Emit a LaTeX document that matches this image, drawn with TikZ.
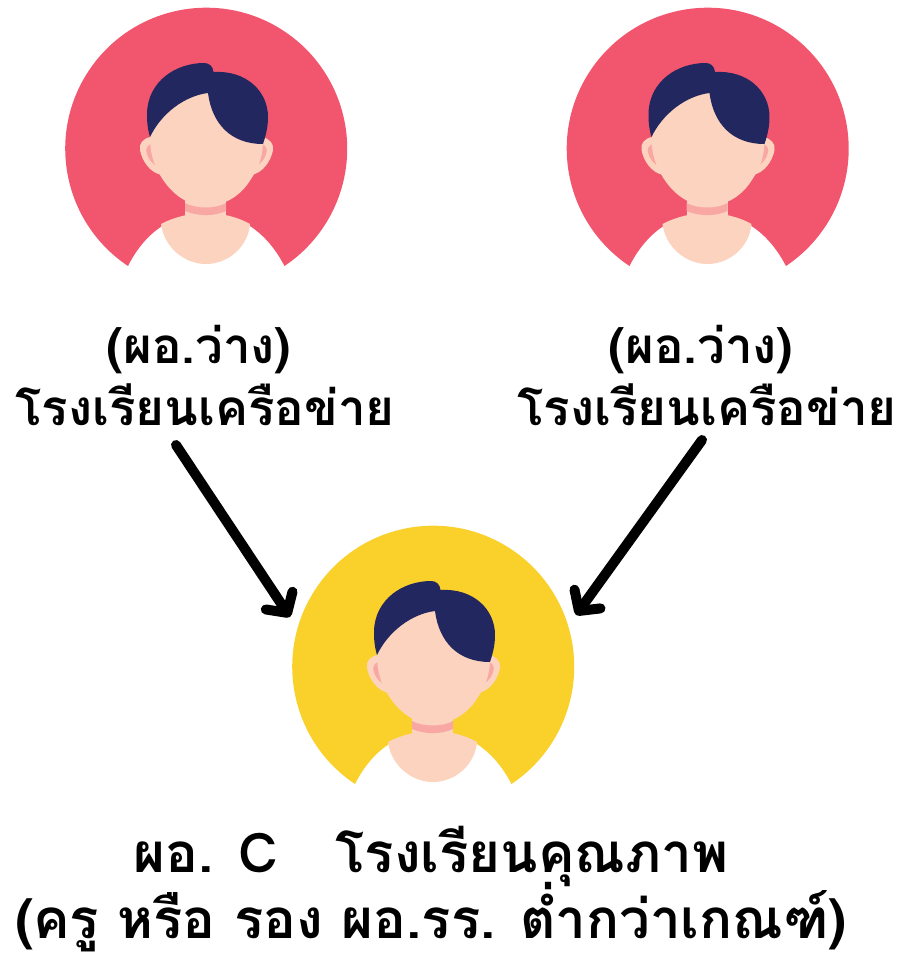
\documentclass[tikz,border=0pt]{standalone}
\usepackage{fontspec}
\usetikzlibrary{arrows.meta}
\newfontfamily\thaifont[Script=Thai]{Loma}
\definecolor{redbg}{HTML}{F2566E}
\definecolor{yellowbg}{HTML}{FAD02B}
\definecolor{navyhair}{HTML}{23275F}
\definecolor{skin}{HTML}{FBD3BE}
\definecolor{pinkshade}{HTML}{F9A7A3}
\tikzset{
  label text/.style={font=\thaifont\bfseries\fontsize{37}{40}\selectfont,text=black,inner sep=0pt,anchor=center},
  big text/.style={font=\thaifont\bfseries\fontsize{41}{44}\selectfont,text=black,inner sep=0pt,anchor=center},
  link/.style={line width=7.5pt,line cap=round,line join=round,draw=black,-{Straight Barb[length=11pt,width=24pt,round]}}
}
\newcommand{\drawavatar}[2]{%
\begin{scope}[shift={#1}]
  % backdrop with the shoulders cut out
  \fill[#2] (-78,117) arc[start angle=123.7,end angle=416.3,radius=141]
    .. controls (62,85) and (35,64) .. (0,64)
    .. controls (-35,64) and (-62,85) .. (-78,117) -- cycle;
  % chest
  \fill[skin] (-45,75) .. controls (-42,98) and (-22,115) .. (0,115)
    .. controls (22,115) and (42,98) .. (44,75)
    .. controls (32,68) and (15,64) .. (0,64)
    .. controls (-15,64) and (-32,68) .. (-45,75) -- cycle;
  % neck
  \fill[skin] (-21,40) rectangle (20,66);
  \fill[pinkshade] (-21,54) .. controls (-10,60) and (10,60) .. (20,54)
    -- (20,62) .. controls (8,67.5) and (-8,67.5) .. (-21,62) -- cycle;
  % ears
  \fill[skin] (-56,-12) .. controls (-63,-10) and (-67,-6) .. (-66,1)
    .. controls (-64,12) and (-56,24) .. (-44,26) -- cycle;
  \fill[skin] (57,-12) .. controls (63,-10) and (68,-6) .. (67,1)
    .. controls (65,12) and (57,24) .. (45,26) -- cycle;
  \fill[pinkshade] (-55,-5) .. controls (-59,-3) and (-61,0) .. (-59,5)
    .. controls (-58,9) and (-55,13) .. (-51,16) .. controls (-53,8) and (-54,2) .. (-55,-5) -- cycle;
  \fill[pinkshade] (56,-5) .. controls (60,-3) and (62,0) .. (60,5)
    .. controls (59,9) and (56,13) .. (52,16) .. controls (54,8) and (55,2) .. (56,-5) -- cycle;
  % face
  \fill[skin] (-56,-12) .. controls (-56,-50) and (-30,-62) .. (2,-60)
    .. controls (35,-58) and (58,-40) .. (57,-5)
    .. controls (56,10) and (52,20) .. (45,30)
    .. controls (35,47) and (18,57) .. (0,57)
    .. controls (-18,57) and (-35,45) .. (-46,26)
    .. controls (-52,15) and (-56,5) .. (-56,-12) -- cycle;
  % hair
  \fill[navyhair] (-56,-12) .. controls (-59,-22) and (-59,-30) .. (-59,-36)
    .. controls (-58,-68) and (-30,-86) .. (-2,-86)
    .. controls (3,-86) and (7,-83) .. (7.5,-77)
    .. controls (40,-79) and (62,-58) .. (62,-32)
    .. controls (62,-22) and (60,-14) .. (57,-5)
    .. controls (25,-5) and (6,-25) .. (2,-56)
    .. controls (-22,-53) and (-45,-35) .. (-56,-12) -- cycle;
\end{scope}}
\begin{document}
\begin{tikzpicture}[x=0.75pt,y=-0.75pt]
  \useasboundingbox (0,0) rectangle (903,958);
  \drawavatar{(206,149)}{redbg}
  \drawavatar{(707.5,149)}{redbg}
  \drawavatar{(433,667)}{yellowbg}
  \node[label text] (a1) at (199,350) {(ผอ.ว่าง)};
  \node[label text] (a2) at (205,405) {โรงเรียนเครือข่าย};
  \node[label text] (b1) at (701,350) {(ผอ.ว่าง)};
  \node[label text] (b2) at (707,405) {โรงเรียนเครือข่าย};
  \node[big text] (c1) at (431,856) {ผอ. C\hspace{1.05em}โรงเรียนคุณภาพ};
  \node[big text] (c2) at (431,917) {(ครู หรือ รอง ผอ.รร. ต่ำกว่าเกณฑ์)};
  \coordinate (s1) at (176,445);
  \coordinate (e1) at (290,617);
  \coordinate (s2) at (702,440);
  \coordinate (e2) at (576,615);
  \draw[link] (s1) -- (e1);
  \draw[link] (s2) -- (e2);
\end{tikzpicture}
\end{document}
